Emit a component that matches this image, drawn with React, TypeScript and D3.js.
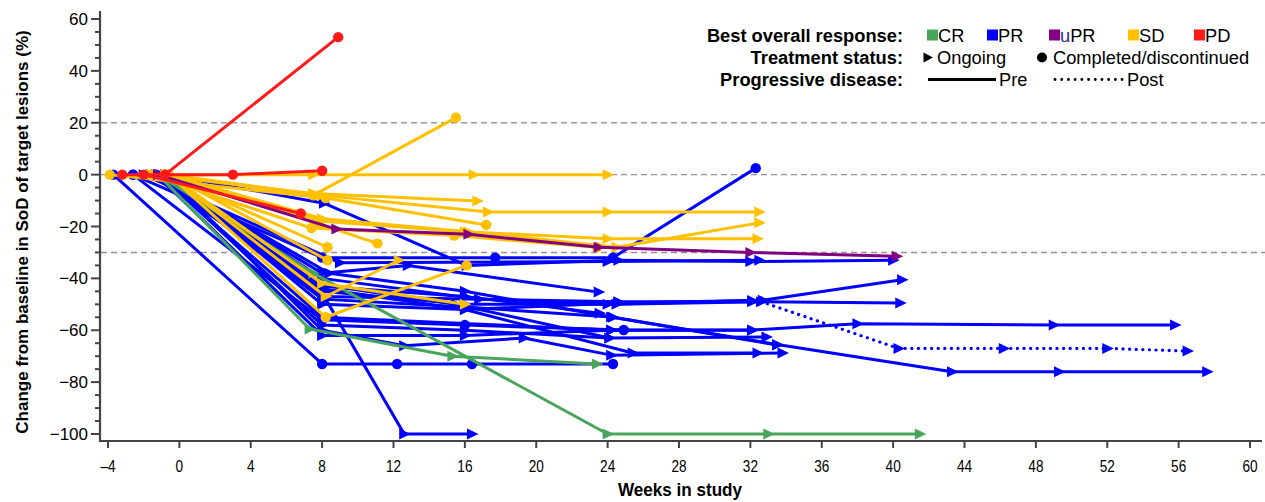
import React from 'react';
import * as d3 from 'd3';

const WIDTH = 1265;
const HEIGHT = 502;
const FONT = "'Liberation Sans', Arial, sans-serif";

// [week, % change] per patient, grouped by best overall response
const crPatients = [
  [[-1.2, 0], [7.3, -59.5], [15.3, -70], [23.4, -73]],
  [[-1.2, 0], [7.5, -38], [24, -100], [33, -100], [41.5, -100]],
];
const crStatus = ['O', 'O'];

const prPatients = [
  [[-2.6, 0], [8, -32], [17.7, -32], [24.3, -32], [32.3, 2.5]],
  [[-2, 0], [9, -34], [24, -33.5], [32.5, -33]],
  [[-0.8, 0], [8.1, -11], [16.1, -35], [24.6, -33], [32, -33.5], [40, -33]],
  [[-1.2, 0], [8, -38], [12.8, -35], [23.5, -45.3]],
  [[-1.1, 0], [8, -47], [24.6, -49], [32.1, -49], [40.4, -49.5]],
  [[-0.8, 0], [8, -50], [16, -52], [24.6, -49.5], [32.7, -48.4], [40.5, -40.5]],
  [[-1.6, 0], [8, -45], [16, -50], [24.5, -50], [32.6, -49], [40.3, -67], [46.2, -67], [52, -67], [56.5, -68]],
  [[-1.2, 0], [8, -55], [24.2, -59.9], [32.1, -59.9], [38, -57.5], [49, -58], [55.8, -58]],
  [[-2.6, 0], [8, -56], [16, -58], [24.9, -59.9]],
  [[-1.2, 0], [8.4, -38], [16, -45], [24.3, -55], [33.5, -65.5], [43.3, -76], [49.3, -76], [57.6, -76]],
  [[-0.8, 0], [8, -60], [12.6, -66], [19.3, -63], [24.2, -69.6], [33.8, -68.8]],
  [[-1.1, 0], [8, -58], [16, -60], [24.1, -63], [32.9, -62.6]],
  [[-0.8, 0], [8, -44], [16, -52], [25.4, -68.8], [32.4, -68.8]],
  [[-1.2, 0], [8, -48], [16, -51], [24.2, -54.9], [33.5, -65.7]],
  [[-3.7, 0], [8, -73], [12.2, -73], [16.4, -73], [24.3, -73]],
  [[-0.8, 0], [8.2, -48], [12.6, -100], [16.4, -100]],
  [[-1.1, 0], [8, -43], [16, -47], [23.55, -53.4]],
  [[-1.6, 0], [7.5, -42], [15.5, -50], [24.1, -63]],
  [[-1, 0], [8, -40], [16.8, -48], [24, -50], [32.1, -48.5]],
  [[-1.3, 0], [8, -62], [16, -62], [24.2, -60], [32.1, -60]],
];
const prStatus = ['C', 'O', 'O', 'O', 'O', 'O', 'O', 'O', 'C', 'O', 'O', 'O', 'O', 'O', 'C', 'O', 'O', 'O', 'O', 'O'];
// index of the point after which the line is post-progression (dotted)
const prPostFrom = [-1, -1, -1, -1, -1, -1, 4, -1, -1, -1, -1, -1, -1, -1, -1, -1, -1, -1, -1, -1];

const uprPatients = [
  [[-1.2, 0], [8.8, -21], [16.2, -23], [23.5, -28], [32, -30], [40.2, -31.5]],
];
const uprStatus = ['O'];

const sdPatients = [
  [[-0.5, 0], [7.5, 0], [16.5, 0], [24, 0]],
  [[-0.6, 0], [7.5, -8], [15.5, 22]],
  [[-1.6, 0], [7.5, -7.3], [16.7, -10.2]],
  [[-0.6, 0], [8, -8], [17.3, -14.4], [24, -14.4], [32.5, -14.4]],
  [[-3.9, 0], [8.2, -9], [17.2, -19.4]],
  [[-0.6, 0], [8, -17], [16.2, -22], [24.5, -28], [32.5, -18.6]],
  [[-0.8, 0], [8, -18], [16, -22], [24, -24.7], [32.4, -24.7]],
  [[-0.6, 0], [8.2, -47], [12.3, -33]],
  [[-0.6, 0], [8.2, -55], [16.1, -35]],
  [[-0.6, 0], [8, -42], [16, -50]],
  [[-1.6, 0], [7.4, -20.6], [15.4, -23.5], [23.4, -28]],
  [[-0.8, 0], [8.3, -28]],
  [[-0.6, 0], [8.3, -33]],
  [[-0.8, 0], [7.8, -19], [11.1, -26.5]],
];
const sdStatus = ['O', 'C', 'O', 'O', 'C', 'O', 'O', 'O', 'C', 'O', 'C', 'C', 'C', 'C'];

const pdPatients = [
  [[-0.8, 0], [8.9, 53]],
  [[-3.2, 0], [3, 0], [8, 1.5]],
  [[-2, 0], [6.8, -15]],
];
const pdStatus = ['C', 'C', 'C'];

const xTicks = d3.range(-4, 61, 4);
const yTicks = d3.range(-100, 61, 20);
const yMinorTicks = d3.range(-100, 61, 5);
const refLines = [20, 0, -30];

const COLORS = { CR: '#4aa55c', PR: '#0000ff', uPR: '#800080', SD: '#ffc000', PD: '#ff1a1a' };

const x = d3.scaleLinear().domain([-4, 60]).range([108, 1250]);
const y = d3.scaleLinear().domain([-100, 60]).range([434, 19]);

const line = d3.line<number[]>().x(d => x(d[0])).y(d => y(d[1]));

const TRI = 'M-5,-5.5L6.5,0L-5,5.5Z';

function Marker({ p, status, color }: { p: number[]; status: string; color: string }) {
  if (status === 'C') return <circle cx={x(p[0])} cy={y(p[1])} r={5.2} fill={color} />;
  return <path d={TRI} transform={`translate(${x(p[0])},${y(p[1])})`} fill={color} />;
}

function Patient({ pts, status, color, postFrom = -1 }: { pts: number[][]; status: string; color: string; postFrom?: number }) {
  const pre = postFrom >= 0 ? pts.slice(0, postFrom + 1) : pts;
  const post = postFrom >= 0 ? pts.slice(postFrom) : [];
  return (
    <g>
      <path d={line(pre) || ''} fill="none" stroke={color} strokeWidth={3} strokeLinejoin="round" />
      {post.length > 0 && (
        <path d={line(post) || ''} fill="none" stroke={color} strokeWidth={3.2} strokeDasharray="0.1,6.5" strokeLinecap="round" />
      )}
      {pts.map((p, i) => <Marker key={i} p={p} status={status} color={color} />)}
    </g>
  );
}

function Group({ patients, status, color, postFrom }: { patients: number[][][]; status: string[]; color: string; postFrom?: number[] }) {
  return (
    <g>
      {patients.map((pts, i) => (
        <Patient key={i} pts={pts} status={status[i]} color={color} postFrom={postFrom ? postFrom[i] : -1} />
      ))}
    </g>
  );
}

function Legend() {
  const lx = 903;
  const items = [
    { k: 'CR', x: 927 },
    { k: 'PR', x: 987 },
    { k: 'uPR', x: 1049 },
    { k: 'SD', x: 1128 },
    { k: 'PD', x: 1194 },
  ];
  return (
    <g fontFamily={FONT} fontSize={18.3}>
      <text x={lx} y={42} textAnchor="end" fontWeight="bold">Best overall response:</text>
      <text x={lx} y={63.5} textAnchor="end" fontWeight="bold">Treatment status:</text>
      <text x={lx} y={85.5} textAnchor="end" fontWeight="bold">Progressive disease:</text>
      {items.map(it => (
        <g key={it.k}>
          <rect x={it.x} y={29.5} width={11} height={11} fill={(COLORS as any)[it.k]} />
          <text x={it.x + 11} y={42}>
            {it.k === 'uPR' ? (<><tspan fill="#2b2b99">u</tspan>PR</>) : it.k}
          </text>
        </g>
      ))}
      <path d="M-4.5,-5L5,0L-4.5,5Z" transform="translate(928,57.5)" fill="#000" />
      <text x={937} y={63.5}>Ongoing</text>
      <circle cx={1042} cy={57.5} r={5} fill="#000" />
      <text x={1053} y={63.5}>Completed/discontinued</text>
      <line x1={928} x2={996} y1={79.5} y2={79.5} stroke="#000" strokeWidth={3} />
      <text x={999} y={85.5}>Pre</text>
      <line x1={1055} x2={1124} y1={79.5} y2={79.5} stroke="#000" strokeWidth={2.8} strokeDasharray="0.1,6.6" strokeLinecap="round" />
      <text x={1127} y={85.5}>Post</text>
    </g>
  );
}

export default function App() {
  return (
    <svg width={WIDTH} height={HEIGHT} style={{ position: 'absolute', left: 0, top: 0, background: '#fff' }}
      xmlns="http://www.w3.org/2000/svg">
      {refLines.map(v => (
        <line key={v} x1={101} x2={WIDTH} y1={y(v)} y2={y(v)}
          stroke={v === 20 ? '#999' : '#a08c96'} strokeWidth={1.4} strokeDasharray="6,4" />
      ))}

      <Group patients={prPatients} status={prStatus} color={COLORS.PR} postFrom={prPostFrom} />
      <Group patients={crPatients} status={crStatus} color={COLORS.CR} />
      <Group patients={sdPatients} status={sdStatus} color={COLORS.SD} />
      <Group patients={uprPatients} status={uprStatus} color={COLORS.uPR} />
      <Group patients={pdPatients} status={pdStatus} color={COLORS.PD} />

      {/* y axis */}
      <line x1={100} x2={100} y1={11} y2={442} stroke="#444" strokeWidth={2.2} />
      {yMinorTicks.map(v => (
        <line key={v} x1={yTicks.includes(v) ? 91 : 95} x2={100} y1={y(v)} y2={y(v)} stroke="#444" strokeWidth={2} />
      ))}
      {yTicks.map(v => (
        <text key={v} x={88} y={y(v) + 6} textAnchor="end" fontFamily={FONT} fontSize={17}>
          {v < 0 ? `\u2212${-v}` : v}
        </text>
      ))}
      <text transform={`translate(28,232) rotate(-90)`} textAnchor="middle" fontFamily={FONT} fontSize={17} fontWeight="bold">
        Change from baseline in SoD of target lesions (%)
      </text>

      {/* x axis */}
      <line x1={99} x2={1262} y1={441} y2={441} stroke="#444" strokeWidth={2.2} />
      {xTicks.map(v => (
        <g key={v} transform={`translate(${x(v)},0)`}>
          <line y1={441} y2={448} stroke="#444" strokeWidth={2} />
          <text transform="translate(0,472) scale(0.8,1)" textAnchor="middle" fontFamily={FONT} fontSize={17}>
            {v < 0 ? `\u2013${-v}` : v}
          </text>
        </g>
      ))}
      <text transform="translate(680,496) scale(0.9,1)" textAnchor="middle" fontFamily={FONT} fontSize={19} fontWeight="bold">
        Weeks in study
      </text>

      <Legend />
    </svg>
  );
}
